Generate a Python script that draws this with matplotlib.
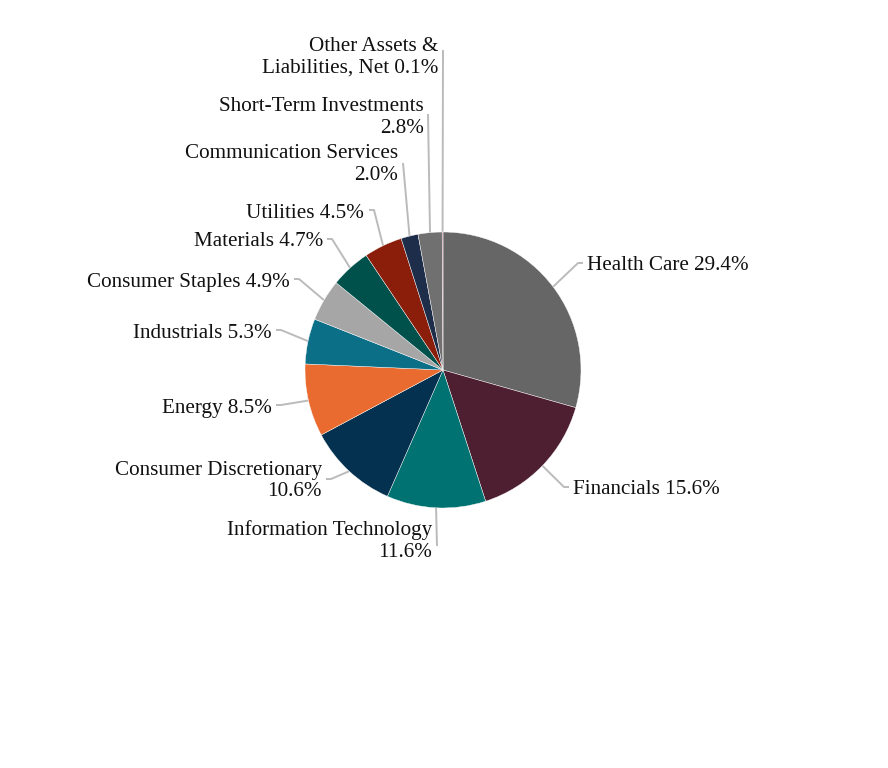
import matplotlib
matplotlib.use('Agg')
import matplotlib.pyplot as plt
import numpy as np

# ---- data ----
sectors = ["Health Care", "Financials", "Information Technology",
           "Consumer Discretionary", "Energy", "Industrials",
           "Consumer Staples", "Materials", "Utilities",
           "Communication Services", "Short-Term Investments",
           "Other Assets &\nLiabilities, Net"]
weights = [29.4, 15.6, 11.6, 10.6, 8.5, 5.3, 4.9, 4.7, 4.5, 2.0, 2.8, 0.1]
colors = ["#666666", "#4e1f31", "#007272", "#03314f", "#e96b2f", "#0c6f88",
          "#a6a6a6", "#00514b", "#8b1d0b", "#1d2d4a", "#707070", "#9b3b4b"]
# put value on a new line for these labels
value_newline = [False, False, True, True, False, False,
                 False, False, False, True, True, False]

# ---- layout (pixels from top-left) ----
W, H = 888, 768
cx, cy, R = 443, 370, 138
text_pos = [(587, 266, 'left'), (573, 490, 'left'), (432, 541, 'right'),
            (322, 481, 'right'), (272, 409, 'right'), (272, 333, 'right'),
            (290, 282, 'right'), (323, 242, 'right'), (364, 214, 'right'),
            (398, 164.5, 'right'), (424, 117.5, 'right'), (438, 57.5, 'right')]
line_end = [(583, 263), (569, 487), (437, 546), (326, 479), (276, 405),
            (276, 330), (294, 279), (327, 239), (369, 210), (403, 163),
            (428, 114), (443, 50)]
elbow = [True, True, False, True, True, True, True, True, True,
         False, False, False]

def Y(y):
    return H - y

fig = plt.figure(figsize=(W / 100, H / 100), dpi=100)
ax = fig.add_axes([0, 0, 1, 1])

wedges, _ = ax.pie(weights, colors=colors, startangle=90, counterclock=False,
                   center=(cx, Y(cy)), radius=R, frame=True,
                   wedgeprops=dict(edgecolor='white', linewidth=0.3))
ax.set_xlim(0, W)
ax.set_ylim(0, H)
ax.set_aspect('equal')
ax.axis('off')

for i, w in enumerate(wedges):
    mid = np.deg2rad((w.theta1 + w.theta2) / 2)
    sx = cx + R * np.cos(mid)
    sy = Y(cy) + R * np.sin(mid)
    ex, ey = line_end[i]
    tx, ty, ha = text_pos[i]
    if elbow[i]:
        d = 5 if ha == 'left' else -5
        xs = [sx, ex - d, ex]
        ys = [sy, Y(ey), Y(ey)]
    else:
        xs = [sx, ex]
        ys = [sy, Y(ey)]
    ax.plot(xs, ys, color='#bbbbbb', lw=1.4, solid_capstyle='butt', zorder=0)
    sep = "\n" if value_newline[i] else " "
    label = f"{sectors[i]}{sep}{weights[i]:.1f}%"
    ax.text(tx, Y(ty), label, ha=ha, va='center', multialignment=ha,
            fontsize=15.2, family='Liberation Serif', color='#111111',
            linespacing=1.18)

fig.savefig('out.png', dpi=100)
